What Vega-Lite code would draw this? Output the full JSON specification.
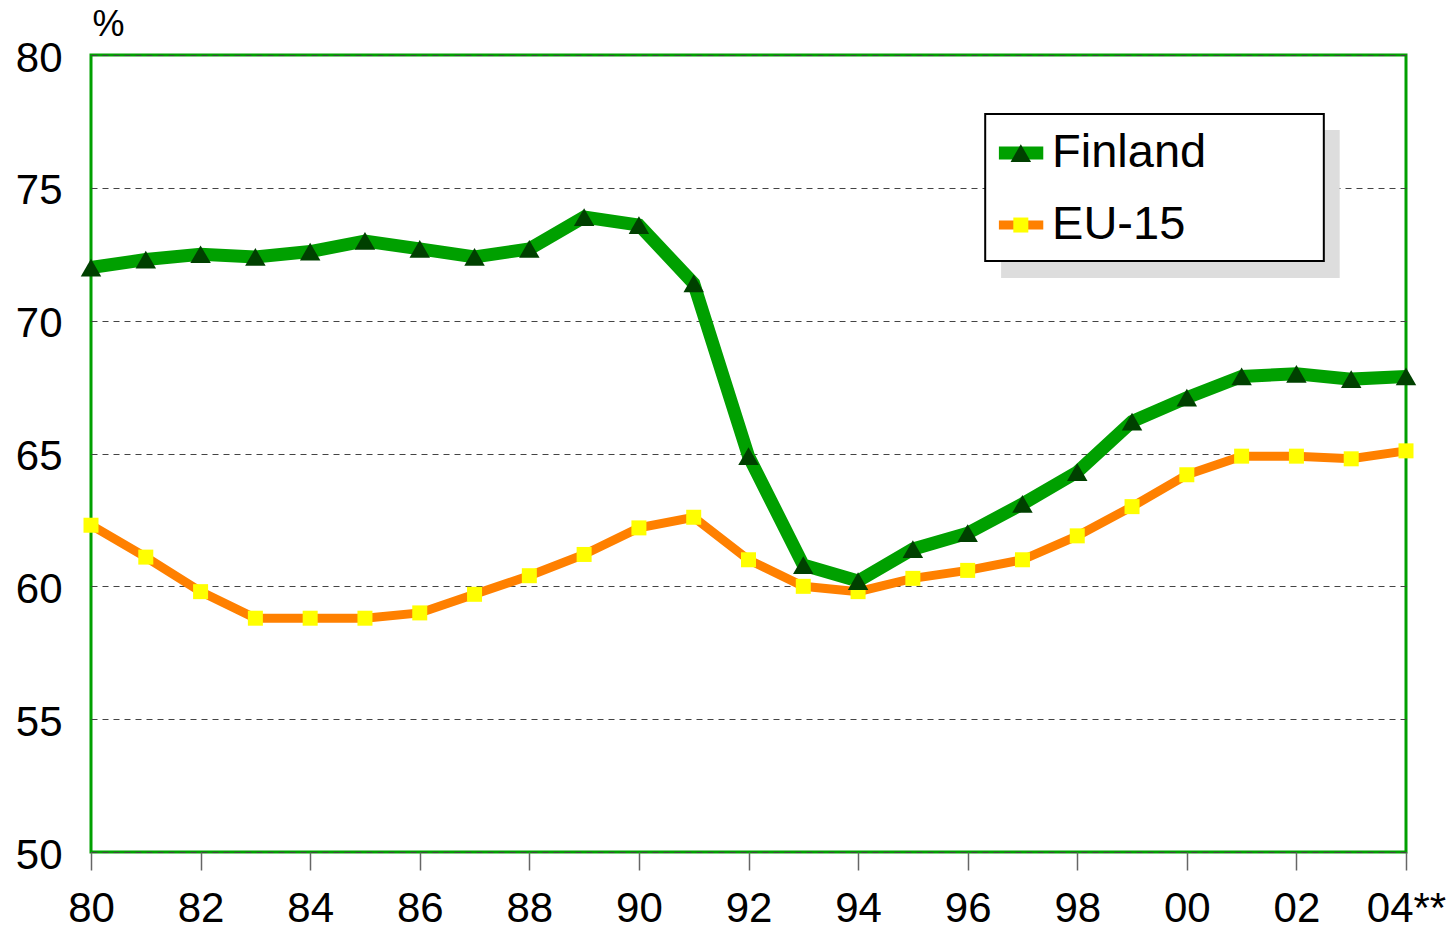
{
  "$schema": "https://vega.github.io/schema/vega-lite/v6.json",
  "width": 1315,
  "height": 797,
  "autosize": {"type": "none"},
  "padding": {"left": 91, "top": 55, "right": 45, "bottom": 79},
  "background": "white",
  "config": {
    "font": "Liberation Sans",
    "view": {"stroke": "#00A000", "strokeWidth": 3}
  },
  "datasets": {
    "main": [
      {"year": 1980, "series": "Finland", "value": 72.0},
      {"year": 1981, "series": "Finland", "value": 72.3},
      {"year": 1982, "series": "Finland", "value": 72.5},
      {"year": 1983, "series": "Finland", "value": 72.4},
      {"year": 1984, "series": "Finland", "value": 72.6},
      {"year": 1985, "series": "Finland", "value": 73.0},
      {"year": 1986, "series": "Finland", "value": 72.7},
      {"year": 1987, "series": "Finland", "value": 72.4},
      {"year": 1988, "series": "Finland", "value": 72.7},
      {"year": 1989, "series": "Finland", "value": 73.9},
      {"year": 1990, "series": "Finland", "value": 73.6},
      {"year": 1991, "series": "Finland", "value": 71.4},
      {"year": 1992, "series": "Finland", "value": 64.9},
      {"year": 1993, "series": "Finland", "value": 60.8},
      {"year": 1994, "series": "Finland", "value": 60.2},
      {"year": 1995, "series": "Finland", "value": 61.4},
      {"year": 1996, "series": "Finland", "value": 62.0},
      {"year": 1997, "series": "Finland", "value": 63.1},
      {"year": 1998, "series": "Finland", "value": 64.3},
      {"year": 1999, "series": "Finland", "value": 66.2},
      {"year": 2000, "series": "Finland", "value": 67.1},
      {"year": 2001, "series": "Finland", "value": 67.9},
      {"year": 2002, "series": "Finland", "value": 68.0},
      {"year": 2003, "series": "Finland", "value": 67.8},
      {"year": 2004, "series": "Finland", "value": 67.9},
      {"year": 1980, "series": "EU-15", "value": 62.3},
      {"year": 1981, "series": "EU-15", "value": 61.1},
      {"year": 1982, "series": "EU-15", "value": 59.8},
      {"year": 1983, "series": "EU-15", "value": 58.8},
      {"year": 1984, "series": "EU-15", "value": 58.8},
      {"year": 1985, "series": "EU-15", "value": 58.8},
      {"year": 1986, "series": "EU-15", "value": 59.0},
      {"year": 1987, "series": "EU-15", "value": 59.7},
      {"year": 1988, "series": "EU-15", "value": 60.4},
      {"year": 1989, "series": "EU-15", "value": 61.2},
      {"year": 1990, "series": "EU-15", "value": 62.2},
      {"year": 1991, "series": "EU-15", "value": 62.6},
      {"year": 1992, "series": "EU-15", "value": 61.0},
      {"year": 1993, "series": "EU-15", "value": 60.0},
      {"year": 1994, "series": "EU-15", "value": 59.8},
      {"year": 1995, "series": "EU-15", "value": 60.3},
      {"year": 1996, "series": "EU-15", "value": 60.6},
      {"year": 1997, "series": "EU-15", "value": 61.0},
      {"year": 1998, "series": "EU-15", "value": 61.9},
      {"year": 1999, "series": "EU-15", "value": 63.0},
      {"year": 2000, "series": "EU-15", "value": 64.2},
      {"year": 2001, "series": "EU-15", "value": 64.9},
      {"year": 2002, "series": "EU-15", "value": 64.9},
      {"year": 2003, "series": "EU-15", "value": 64.8},
      {"year": 2004, "series": "EU-15", "value": 65.1}
    ],
    "legendbox": [
      {"part": "shadow", "x1": 1996.61, "x2": 2002.79, "y1": 77.18, "y2": 71.61},
      {"part": "box", "x1": 1996.32, "x2": 2002.50, "y1": 77.78, "y2": 72.25}
    ],
    "legenditems": [
      {"series": "Finland", "lx1": 1996.57, "lx2": 1997.38, "mx": 1996.97, "tx": 1997.54, "y": 76.31},
      {"series": "EU-15", "lx1": 1996.57, "lx2": 1997.38, "mx": 1996.97, "tx": 1997.54, "y": 73.6}
    ]
  },
  "layer": [
    {
      "data": {"name": "main"},
      "transform": [{"filter": "datum.series === 'EU-15'"}],
      "mark": {"type": "line", "color": "#FF8000", "strokeWidth": 9},
      "encoding": {
        "x": {
          "field": "year", "type": "quantitative",
          "scale": {"domain": [1980, 2004], "nice": false, "zero": false},
          "axis": {
            "values": [1980, 1982, 1984, 1986, 1988, 1990, 1992, 1994, 1996, 1998, 2000, 2002, 2004],
            "labelExpr": "slice(toString(datum.value), 2) + (datum.value == 2004 ? '**' : '')",
            "title": null, "grid": false, "domain": false,
            "ticks": true, "tickSize": 18, "tickColor": "#666666", "tickWidth": 1.5,
            "labelFontSize": 42, "labelColor": "#000000", "labelPadding": 18,
            "labelOverlap": false, "labelBound": false, "labelFlush": false
          }
        },
        "y": {
          "field": "value", "type": "quantitative",
          "scale": {"domain": [50, 80], "nice": false, "zero": false},
          "axis": {
            "values": [50, 55, 60, 65, 70, 75, 80],
            "title": "%", "titleAngle": 0, "titleX": 17, "titleY": -31,
            "titleAlign": "center", "titleBaseline": "middle",
            "titleFontSize": 36, "titleFontWeight": "normal", "titleColor": "#000000",
            "grid": true, "gridColor": "#444444", "gridDash": [6, 5], "gridWidth": 1,
            "domain": false, "ticks": false,
            "labelFontSize": 42, "labelColor": "#000000", "labelPadding": 29, "labelOffset": 3
          }
        }
      }
    },
    {
      "data": {"name": "main"},
      "transform": [{"filter": "datum.series === 'Finland'"}],
      "mark": {"type": "line", "color": "#00A000", "strokeWidth": 13},
      "encoding": {
        "x": {"field": "year", "type": "quantitative"},
        "y": {"field": "value", "type": "quantitative"}
      }
    },
    {
      "data": {"name": "main"},
      "transform": [{"filter": "datum.series === 'EU-15'"}],
      "mark": {"type": "square", "color": "#FFFF00", "opacity": 1, "size": 225},
      "encoding": {
        "x": {"field": "year", "type": "quantitative"},
        "y": {"field": "value", "type": "quantitative"}
      }
    },
    {
      "data": {"name": "main"},
      "transform": [{"filter": "datum.series === 'Finland'"}],
      "mark": {"type": "point", "shape": "triangle-up", "filled": true, "color": "#004000", "opacity": 1, "size": 420},
      "encoding": {
        "x": {"field": "year", "type": "quantitative"},
        "y": {"field": "value", "type": "quantitative"}
      }
    },
    {
      "data": {"name": "legendbox"},
      "transform": [{"filter": "datum.part === 'shadow'"}],
      "mark": {"type": "rect", "fill": "#DDDDDD"},
      "encoding": {
        "x": {"field": "x1", "type": "quantitative"},
        "x2": {"field": "x2"},
        "y": {"field": "y1", "type": "quantitative"},
        "y2": {"field": "y2"}
      }
    },
    {
      "data": {"name": "legendbox"},
      "transform": [{"filter": "datum.part === 'box'"}],
      "mark": {"type": "rect", "fill": "#FFFFFF", "stroke": "#000000", "strokeWidth": 2},
      "encoding": {
        "x": {"field": "x1", "type": "quantitative"},
        "x2": {"field": "x2"},
        "y": {"field": "y1", "type": "quantitative"},
        "y2": {"field": "y2"}
      }
    },
    {
      "data": {"name": "legenditems"},
      "transform": [{"filter": "datum.series === 'EU-15'"}],
      "mark": {"type": "rule", "strokeWidth": 9, "color": "#FF8000"},
      "encoding": {
        "x": {"field": "lx1", "type": "quantitative"},
        "x2": {"field": "lx2"},
        "y": {"field": "y", "type": "quantitative"}
      }
    },
    {
      "data": {"name": "legenditems"},
      "transform": [{"filter": "datum.series === 'Finland'"}],
      "mark": {"type": "rule", "strokeWidth": 13, "color": "#00A000"},
      "encoding": {
        "x": {"field": "lx1", "type": "quantitative"},
        "x2": {"field": "lx2"},
        "y": {"field": "y", "type": "quantitative"}
      }
    },
    {
      "data": {"name": "legenditems"},
      "transform": [{"filter": "datum.series === 'EU-15'"}],
      "mark": {"type": "square", "color": "#FFFF00", "opacity": 1, "size": 225},
      "encoding": {
        "x": {"field": "mx", "type": "quantitative"},
        "y": {"field": "y", "type": "quantitative"}
      }
    },
    {
      "data": {"name": "legenditems"},
      "transform": [{"filter": "datum.series === 'Finland'"}],
      "mark": {"type": "point", "shape": "triangle-up", "filled": true, "color": "#004000", "opacity": 1, "size": 420},
      "encoding": {
        "x": {"field": "mx", "type": "quantitative"},
        "y": {"field": "y", "type": "quantitative"}
      }
    },
    {
      "data": {"name": "legenditems"},
      "mark": {"type": "text", "align": "left", "baseline": "middle", "fontSize": 47, "color": "#000000"},
      "encoding": {
        "x": {"field": "tx", "type": "quantitative"},
        "y": {"field": "y", "type": "quantitative"},
        "text": {"field": "series", "type": "nominal"}
      }
    }
  ]
}
